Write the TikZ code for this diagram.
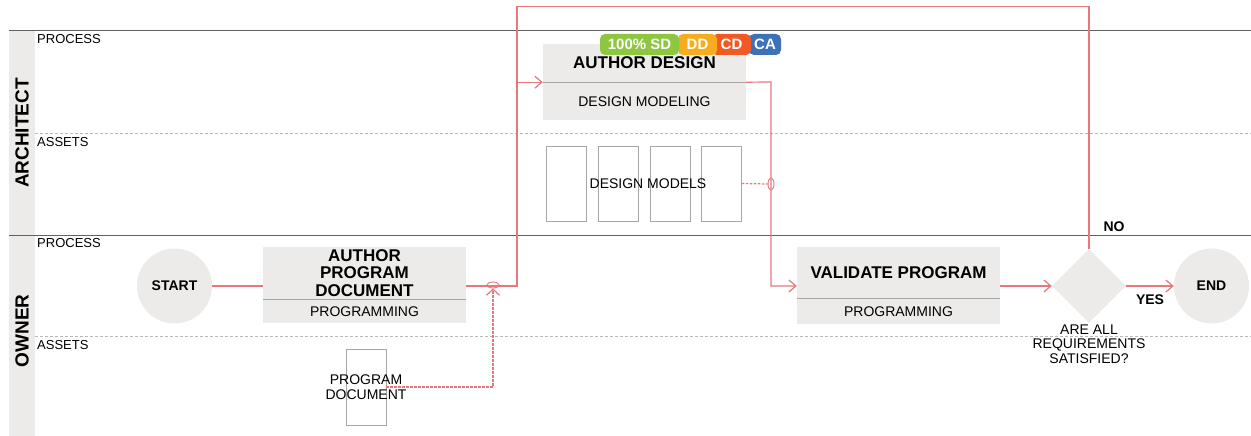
\documentclass[tikz,border=0pt]{standalone}
\usepackage{fontspec}
\setmainfont{Liberation Sans}
\usetikzlibrary{arrows.meta,positioning,shapes.geometric}

\definecolor{lanegray}{RGB}{237,235,233}
\definecolor{flowred}{RGB}{232,118,124}
\definecolor{sdgreen}{RGB}{141,198,63}
\definecolor{ddyellow}{RGB}{246,172,30}
\definecolor{cdorange}{RGB}{241,90,36}
\definecolor{cablue}{RGB}{61,114,184}

\tikzset{
  lanerule/.style={draw=black!62, line width=1pt},
  lanesplit/.style={draw=black!28, line width=0.6pt, dash pattern=on 3pt off 2pt},
  lanelabel/.style={anchor=north west, inner sep=0pt, font=\fontsize{13}{13}\selectfont},
  lanetitle/.style={rotate=90, inner sep=0pt, font=\fontsize{19}{19}\selectfont\bfseries},
  event/.style={circle, fill=lanegray, minimum size=75pt, inner sep=0pt, font=\fontsize{14}{14}\selectfont\bfseries},
  tasktop/.style={rectangle, fill=lanegray, minimum width=203pt, inner sep=0pt, align=center, font=\fontsize{17}{17.5}\selectfont\bfseries},
  taskbot/.style={rectangle, fill=lanegray, minimum width=203pt, inner sep=0pt, font=\fontsize{14}{14}\selectfont},
  divider/.style={draw=black!35, line width=0.8pt},
  decision/.style={diamond, fill=lanegray, minimum width=74pt, minimum height=74pt, inner sep=0pt},
  asset/.style={rectangle, draw=black!35, line width=0.7pt, minimum width=40pt, minimum height=75pt, inner sep=0pt},
  plain/.style={inner sep=0pt, align=center, font=\fontsize{14}{14.5}\selectfont},
  answer/.style={inner sep=0pt, font=\fontsize{14}{14}\selectfont\bfseries},
  badge/.style={rounded corners=5pt, minimum height=21pt, inner sep=0pt, text=white, font=\fontsize{15}{15}\selectfont\bfseries},
  redline/.style={draw=flowred, line width=1.2pt},
  flowarrow/.style={redline, -{Straight Barb[length=7pt,width=12pt]}},
  assocline/.style={draw=flowred, line width=1.2pt, dash pattern=on 2.5pt off 1.5pt},
  marker/.style={ellipse, draw=flowred, line width=0.9pt, inner sep=0pt}
}

\begin{document}
\begin{tikzpicture}[x=1pt, y=-1pt]
\useasboundingbox (0,0) rectangle (1251,436);
% lanes
\fill[lanegray] (9,31) rectangle (35,436);
\draw[lanerule] (9,31) -- (1251,31);
\draw[lanerule] (9,235) -- (1251,235);
\draw[lanesplit] (35,133) -- (1251,133);
\draw[lanesplit] (35,336) -- (1251,336);
\node[lanetitle] (architect) at (22,133) {ARCHITECT};
\node[lanetitle] (owner) at (22,331) {OWNER};
\node[lanelabel] (archproc) at (37,34) {PROCESS};
\node[lanelabel] (archassets) at (37,137) {ASSETS};
\node[lanelabel] (ownproc) at (37,238) {PROCESS};
\node[lanelabel] (ownassets) at (37,340) {ASSETS};

% tasks and events
\node[event] (start) at (174.5,286) {START};
\node[tasktop, minimum height=52pt] (apd) at (364.5,273) {AUTHOR\\PROGRAM\\DOCUMENT};
\node[taskbot, minimum height=24pt, below=0pt of apd] (apdsub) {PROGRAMMING};
\draw[divider] (apd.south west) -- (apd.south east);

\node[tasktop, minimum height=38pt] (ad) at (644.5,63) {AUTHOR DESIGN};
\node[taskbot, minimum height=38pt, below=0pt of ad] (adsub) {DESIGN MODELING};
\draw[divider] (ad.south west) -- (ad.south east);

\node[tasktop, minimum height=51pt] (vp) at (898.5,272.5) {VALIDATE PROGRAM};
\node[taskbot, minimum height=26pt, below=0pt of vp] (vpsub) {PROGRAMMING};
\draw[divider] (vp.south west) -- (vp.south east);

\node[decision] (dec) at (1089,286) {};
\node[plain, below=1pt of dec] (declabel) {ARE ALL\\REQUIREMENTS\\SATISFIED?};
\node[event] (finish) at (1211.5,286) {END};

% phase badge
\node[badge, fill=cablue, minimum width=32pt] (ca) at (765,44.5) {CA};
\node[badge, fill=cdorange, minimum width=39pt] (cd) at (731.5,44.5) {CD};
\node[badge, fill=ddyellow, minimum width=39pt] (dd) at (697.5,44.5) {DD};
\node[badge, fill=sdgreen, minimum width=79pt] (sd) at (639.5,44.5) {100\% SD};

% assets
\foreach \i/\x in {1/566.5,2/618,3/670,4/721.5}
  \node[asset] (dm\i) at (\x,183.5) {};
\node[plain] (dmlabel) at (648,184) {DESIGN MODELS};
\node[asset, minimum height=76pt] (pd) at (366,387) {};
\node[plain] (pdlabel) at (366,387) {PROGRAM\\DOCUMENT};

% flows
\coordinate (split) at (517,286);
\coordinate (looptop) at (517,6.5);
\coordinate (adturn) at (771,82);
\coordinate (pdturn) at (493,387);
\draw[redline] (dec.north) |- (looptop) -- (split);
\draw[redline] (start.east) -- (apd.west |- start.east);
\draw[flowarrow] (apd.east |- split) -- (split) |- (ad.south west);
\draw[flowarrow] (ad.south east) -- (adturn) |- (vp.west |- dec);
\draw[flowarrow] (vp.east |- dec) -- (dec.west);
\draw[flowarrow] (dec.east) -- (finish.west);
\node[answer] (yes) at (1150,300) {YES};
\node[answer] (no) at (1114,227) {NO};

% associations
\node[marker, minimum width=6pt, minimum height=12pt] (dmmark) at (771,184) {};
\draw[assocline] (dm4.east) -- (dmmark.west);
\node[marker, minimum width=12pt, minimum height=6pt] (pdmark) at (493,285) {};
\draw[assocline, -{Straight Barb[length=6pt,width=13pt]}] (pd.east |- pdturn) -- (pdturn) -- (pdmark.south);
\end{tikzpicture}
\end{document}
